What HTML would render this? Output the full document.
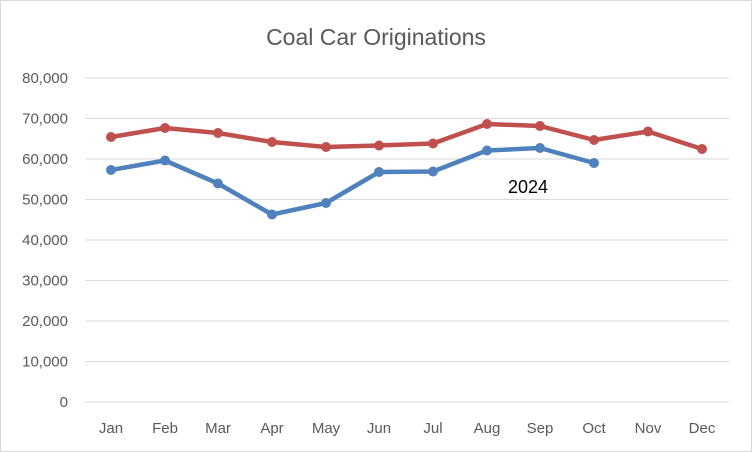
<!DOCTYPE html>
<html><head><style>
html,body{margin:0;padding:0;background:#fff;}
svg{display:block;font-family:"Liberation Sans",sans-serif;}
</style></head><body>
<svg width="752" height="452" viewBox="0 0 752 452">
<rect x="0.5" y="0.5" width="751" height="451" fill="#fff" stroke="#d9d9d9"/>
<text x="376" y="45" text-anchor="middle" font-size="23" fill="#595959">Coal Car Originations</text>
<g stroke="#d9d9d9" stroke-width="1">
<line x1="85" x2="729" y1="78" y2="78"/>
<line x1="85" x2="729" y1="118.5" y2="118.5"/>
<line x1="85" x2="729" y1="159" y2="159"/>
<line x1="85" x2="729" y1="199.5" y2="199.5"/>
<line x1="85" x2="729" y1="240" y2="240"/>
<line x1="85" x2="729" y1="280.5" y2="280.5"/>
<line x1="85" x2="729" y1="321" y2="321"/>
<line x1="85" x2="729" y1="361.5" y2="361.5"/>
<line x1="85" x2="729" y1="402" y2="402"/>
</g>
<g font-size="15" fill="#595959" text-anchor="end">
<text x="68" y="83">80,000</text>
<text x="68" y="123.5">70,000</text>
<text x="68" y="164">60,000</text>
<text x="68" y="204.5">50,000</text>
<text x="68" y="245">40,000</text>
<text x="68" y="285.5">30,000</text>
<text x="68" y="326">20,000</text>
<text x="68" y="366.5">10,000</text>
<text x="68" y="407">0</text>
</g>
<g font-size="15" fill="#595959" text-anchor="middle">
<text x="111" y="433">Jan</text><text x="165" y="433">Feb</text><text x="218" y="433">Mar</text>
<text x="272" y="433">Apr</text><text x="326" y="433">May</text><text x="379" y="433">Jun</text>
<text x="433" y="433">Jul</text><text x="487" y="433">Aug</text><text x="540" y="433">Sep</text>
<text x="594" y="433">Oct</text><text x="648" y="433">Nov</text><text x="702" y="433">Dec</text>
</g>
<g fill="#c0504d">
<polyline fill="none" stroke="#c0504d" stroke-width="4.5" stroke-linejoin="round" points="111,137 165,128 218,133 272,142 326,147 379,145.5 433,143.5 487,124 540,126 594,140 648,131.5 702,149"/>
<circle cx="111" cy="137" r="5"/><circle cx="165" cy="128" r="5"/><circle cx="218" cy="133" r="5"/><circle cx="272" cy="142" r="5"/><circle cx="326" cy="147" r="5"/><circle cx="379" cy="145.5" r="5"/><circle cx="433" cy="143.5" r="5"/><circle cx="487" cy="124" r="5"/><circle cx="540" cy="126" r="5"/><circle cx="594" cy="140" r="5"/><circle cx="648" cy="131.5" r="5"/><circle cx="702" cy="149" r="5"/>
</g>
<g fill="#4f81bd">
<polyline fill="none" stroke="#4f81bd" stroke-width="4.5" stroke-linejoin="round" points="111,170 165,160.5 218,183.5 272,214.5 326,203 379,172 433,171.5 487,150.5 540,148 594,163"/>
<circle cx="111" cy="170" r="5"/><circle cx="165" cy="160.5" r="5"/><circle cx="218" cy="183.5" r="5"/><circle cx="272" cy="214.5" r="5"/><circle cx="326" cy="203" r="5"/><circle cx="379" cy="172" r="5"/><circle cx="433" cy="171.5" r="5"/><circle cx="487" cy="150.5" r="5"/><circle cx="540" cy="148" r="5"/><circle cx="594" cy="163" r="5"/>
</g>
<text x="528" y="193" text-anchor="middle" font-size="18" fill="#000">2024</text>
</svg>
</body></html>
